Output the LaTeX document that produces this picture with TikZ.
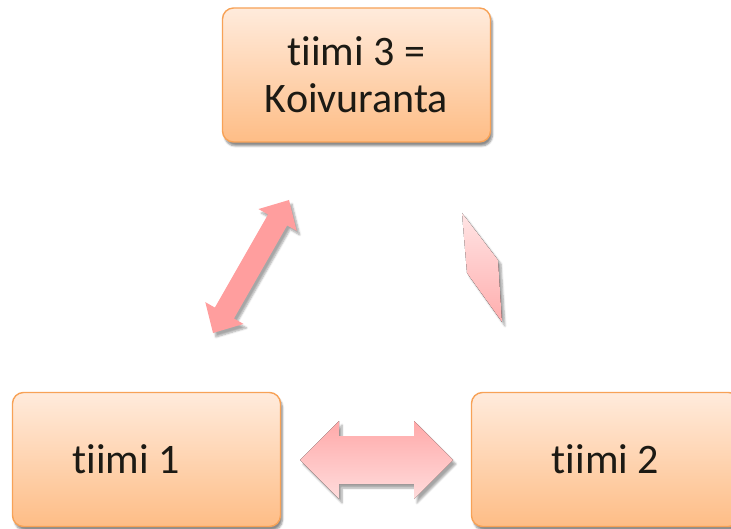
\documentclass[tikz,border=0pt]{standalone}
\usepackage{fontspec}
\setmainfont{Carlito}[Ligatures={NoCommon}, RawFeature={-liga;-clig}]
\usetikzlibrary{shadows.blur}

\definecolor{boxtop}{HTML}{FFEBDC}
\definecolor{boxbot}{HTML}{FEBD86}
\definecolor{boxline}{HTML}{F7A257}
\definecolor{txt}{HTML}{1C1A14}
\definecolor{arrowmain}{HTML}{FF9E9E}
\definecolor{arrowtop}{HTML}{FFA9A9}
\definecolor{arrowbot}{HTML}{FFDCDC}
\definecolor{fadetop}{HTML}{FFE4E4}
\definecolor{fadebot}{HTML}{FFAEAE}

\tikzset{
  teambox/.style={rectangle, rounded corners=11pt, draw=boxline, line width=1.4pt,
    top color=boxtop, bottom color=boxbot, minimum width=268pt, minimum height=134pt,
    inner sep=0pt, font=\fontsize{42}{47}\selectfont, text=txt, align=center,
    blur shadow={shadow xshift=2pt, shadow yshift=-4pt, shadow blur steps=6, shadow opacity=45}},
  teamtext/.style={inner sep=0pt, font=\fontsize{42}{47}\selectfont, text=txt},
  blockarrow/.style={draw=none,
    blur shadow={shadow xshift=3pt, shadow yshift=-4pt, shadow blur steps=6, shadow opacity=35}},
}

\begin{document}
\begin{tikzpicture}[x=1pt, y=-1pt]
  \useasboundingbox (0,0) rectangle (731,529);

  % team boxes
  \node[teambox] (t3) at (356.5,75) {tiimi 3 =\\Koivuranta};
  \node[teambox] (t1) at (146.5,459.5) {};
  \node[teamtext] (t1label) at (126,459.5) {tiimi 1};
  \node[teambox] (t2) at (605.5,459.5) {tiimi 2};

  % double arrow between tiimi 1 and tiimi 3
  \fill[blockarrow, fill=arrowmain]
    (213,333) -- (243.51,323.94) -- (233.96,318.49) -- (287.14,225.42)
    -- (296.69,230.87) -- (289,200) -- (258.49,209.05) -- (268.04,214.50)
    -- (214.86,307.57) -- (205.31,302.12) -- cycle;

  % double arrow between tiimi 1 and tiimi 2
  \fill[blockarrow, top color=arrowtop, bottom color=arrowbot]
    (300,460) -- (339,421) -- (339,436) -- (414,436) -- (414,421)
    -- (453,460) -- (414,499) -- (414,484) -- (339,484) -- (339,499) -- cycle;

  % faded link between tiimi 3 and tiimi 2
  \fill[blockarrow, top color=fadetop, bottom color=fadebot]
    (462,213) -- (498,260) -- (502,322) -- (467,273) -- cycle;
\end{tikzpicture}
\end{document}
